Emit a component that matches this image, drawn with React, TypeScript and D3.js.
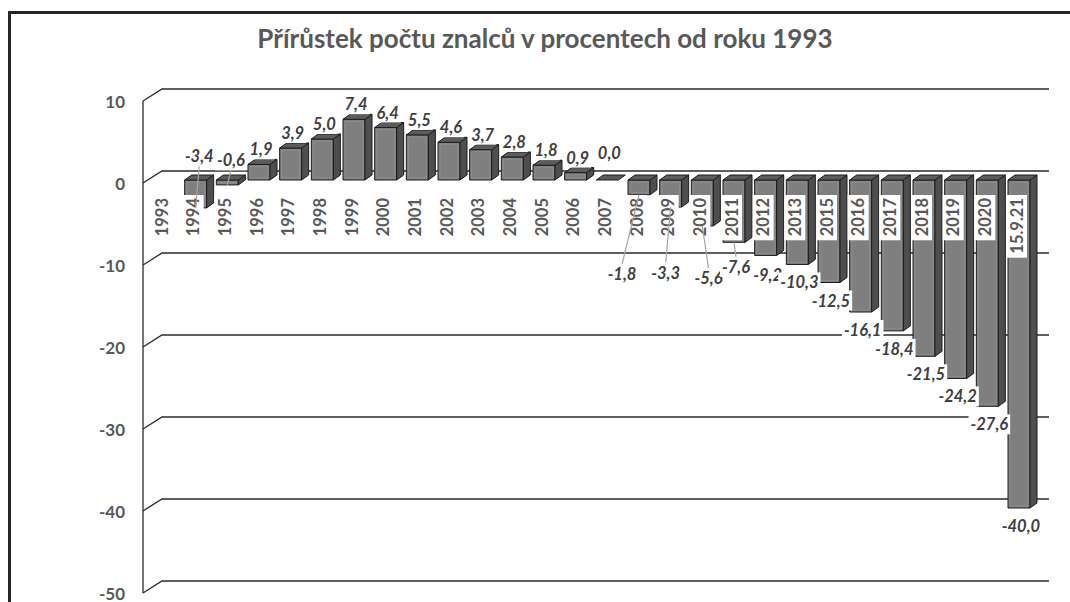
import React, { useEffect, useRef } from 'react';
import * as d3 from 'd3';

// categories along the bottom (2014 is missing in the source)
const categories = [
  '1993', '1994', '1995', '1996', '1997', '1998', '1999', '2000', '2001', '2002',
  '2003', '2004', '2005', '2006', '2007', '2008', '2009', '2010', '2011', '2012',
  '2013', '2015', '2016', '2017', '2018', '2019', '2020', '15.9.21'
];

// growth in % against 1993 (base year has no bar)
const growth: (number | null)[] = [
  null, -3.4, -0.6, 1.9, 3.9, 5.0, 7.4, 6.4, 5.5, 4.6,
  3.7, 2.8, 1.8, 0.9, 0.0, -1.8, -3.3, -5.6, -7.6, -9.2,
  -10.3, -12.5, -16.1, -18.4, -21.5, -24.2, -27.6, -40.0
];

const yTicks = [10, 0, -10, -20, -30, -40, -50];

const title = 'Přírůstek počtu znalců v procentech od roku 1993';

// labels that were dragged by hand in the original (dx in category steps, at = value level)
const labelMoves: Record<string, { dx: number; at: number; leader: boolean }> = {
  '1994': { dx: 0.05, at: 2.9, leader: true },
  '1995': { dx: 0.05, at: 2.4, leader: true },
  '2007': { dx: 0, at: 3.3, leader: false },
  '2008': { dx: -0.6, at: -11.5, leader: true },
  '2009': { dx: -0.22, at: -11.3, leader: true },
  '2010': { dx: 0.13, at: -12.0, leader: true },
  '2011': { dx: 0, at: -10.6, leader: true },
  '2012': { dx: 0, at: -11.6, leader: false }
};

const FONT = 'Lato, "Open Sans", sans-serif';

export default function App() {
  const ref = useRef<SVGSVGElement>(null);

  useEffect(() => {
    document.body.style.margin = '0';
    const svg = d3.select(ref.current);
    svg.selectAll('*').remove();

    const x = d3.scalePoint<string>().domain(categories).range([160, 1015]);
    const step = x.step();
    const yFront = d3.scaleLinear().domain([-50, 10]).range([593, 101]);
    const yBar = (v: number) => yFront(v) - 3;
    const wall = { left: 143, dx: 19, dy: -12, right: 1049 };
    const barW = 22;
    const bd = { dx: 7, dy: -5 };
    // czech decimal comma, plain hyphen for minus
    const fmt = (v: number) => d3.format('.1f')(v).replace('.', ',').replace('\u2212', '-');

    // outer frame
    svg.append('rect')
      .attr('x', 9.5).attr('y', 12.5)
      .attr('width', 1100).attr('height', 620)
      .attr('fill', '#fff')
      .attr('stroke', '#262626').attr('stroke-width', 3);

    svg.append('text')
      .attr('x', 545).attr('y', 48)
      .attr('text-anchor', 'middle')
      .attr('font-family', FONT).attr('font-weight', 700).attr('font-size', 26)
      .attr('fill', '#595959')
      .text(title);

    // grid: front edge on the wall, diagonal, then back line
    const grid = svg.append('g').attr('fill', 'none').attr('stroke', '#2b2b2b').attr('stroke-width', 1.3);
    grid.append('line')
      .attr('x1', wall.left).attr('x2', wall.left)
      .attr('y1', yFront(10)).attr('y2', yFront(-50));
    yTicks.forEach((t) => {
      const yf = yFront(t);
      grid.append('path')
        .attr('d', `M${wall.left},${yf}L${wall.left + wall.dx},${yf + wall.dy}L${wall.right},${yf + wall.dy}`);
    });

    svg.append('g').selectAll('text')
      .data(yTicks)
      .enter()
      .append('text')
      .attr('x', 125).attr('y', (d) => yFront(d))
      .attr('text-anchor', 'end').attr('dominant-baseline', 'central')
      .attr('font-family', FONT).attr('font-weight', 700).attr('font-size', 17)
      .attr('fill', '#595959')
      .text((d) => String(d));

    // bars
    const bars = svg.append('g').attr('stroke', '#1c1c1c').attr('stroke-width', 1).attr('stroke-linejoin', 'round');
    categories.forEach((c, i) => {
      const v = growth[i];
      if (v === null) return;
      const x0 = (x(c) as number) - 7;
      const yT = yBar(Math.max(v, 0));
      const yB = yBar(Math.min(v, 0));
      const g = bars.append('g');
      if (yB - yT > 0.5) {
        g.append('rect')
          .attr('x', x0).attr('y', yT).attr('width', barW).attr('height', yB - yT)
          .attr('fill', '#7f7f7f');
        g.append('rect')
          .attr('x', x0 + 2).attr('y', yT + 2)
          .attr('width', barW - 4).attr('height', Math.max(0, yB - yT - 4))
          .attr('fill', 'none').attr('stroke', '#8d8d8d').attr('stroke-width', 1);
        g.append('path')
          .attr('d', `M${x0 + barW},${yT}L${x0 + barW + bd.dx},${yT + bd.dy}L${x0 + barW + bd.dx},${yB + bd.dy}L${x0 + barW},${yB}Z`)
          .attr('fill', '#4e4e4e');
      }
      g.append('path')
        .attr('d', `M${x0},${yT}L${x0 + bd.dx},${yT + bd.dy}L${x0 + barW + bd.dx},${yT + bd.dy}L${x0 + barW},${yT}Z`)
        .attr('fill', '#5c5c5c');
    });

    // category labels on white boxes
    const cats = svg.append('g');
    categories.forEach((c) => {
      const cx = x(c) as number;
      const g = cats.append('g');
      const r = g.append('rect').attr('fill', '#fff');
      const t = g.append('text')
        .attr('transform', `translate(${cx + 1.5},198) rotate(-90)`)
        .attr('text-anchor', 'end').attr('dominant-baseline', 'central')
        .attr('font-family', FONT).attr('font-weight', 700).attr('font-size', 16.5)
        .attr('fill', '#595959')
        .text(c);
      const len = (t.node() as SVGTextElement).getComputedTextLength();
      r.attr('x', cx - 9).attr('y', 195).attr('width', 21).attr('height', len + 7);
    });

    // value label positions
    const labels = categories.map((c, i) => {
      const v = growth[i];
      if (v === null) return null;
      const bc = (x(c) as number) + 4;
      const mv = labelMoves[c];
      let lx = bc + 2;
      let ly = v >= 0 ? yBar(v) - 15 : yBar(v) + 18;
      if (mv) {
        lx = bc + 2 + mv.dx * step;
        ly = yBar(mv.at);
      }
      return { c, v, bc, lx, ly, leader: mv ? mv.leader : false };
    }).filter((d) => d !== null) as { c: string; v: number; bc: number; lx: number; ly: number; leader: boolean }[];

    // leader lines
    svg.append('g').selectAll('line')
      .data(labels.filter((d) => d.leader))
      .enter()
      .append('line')
      .attr('x1', (d) => d.lx)
      .attr('y1', (d) => (d.ly < yBar(d.v) ? d.ly + 10 : d.ly - 10))
      .attr('x2', (d) => d.bc)
      .attr('y2', (d) => yBar(d.v))
      .attr('stroke', '#a6a6a6').attr('stroke-width', 1.2);

    const vl = svg.append('g');
    labels.forEach((d) => {
      const g = vl.append('g');
      const r = g.append('rect').attr('fill', '#fff');
      const t = g.append('text')
        .attr('x', d.lx).attr('y', d.ly)
        .attr('text-anchor', 'middle').attr('dominant-baseline', 'central')
        .attr('font-family', FONT).attr('font-weight', 700).attr('font-style', 'italic').attr('font-size', 16.5)
        .attr('fill', '#404040')
        .text(fmt(d.v));
      const len = (t.node() as SVGTextElement).getComputedTextLength();
      r.attr('x', d.lx - len / 2 - 2).attr('y', d.ly - 10).attr('width', len + 4).attr('height', 20);
    });
  }, []);

  return (
    <div className="chart-wrapper">
      <svg ref={ref} width={1070} height={602} style={{ display: 'block' }} />
    </div>
  );
}
